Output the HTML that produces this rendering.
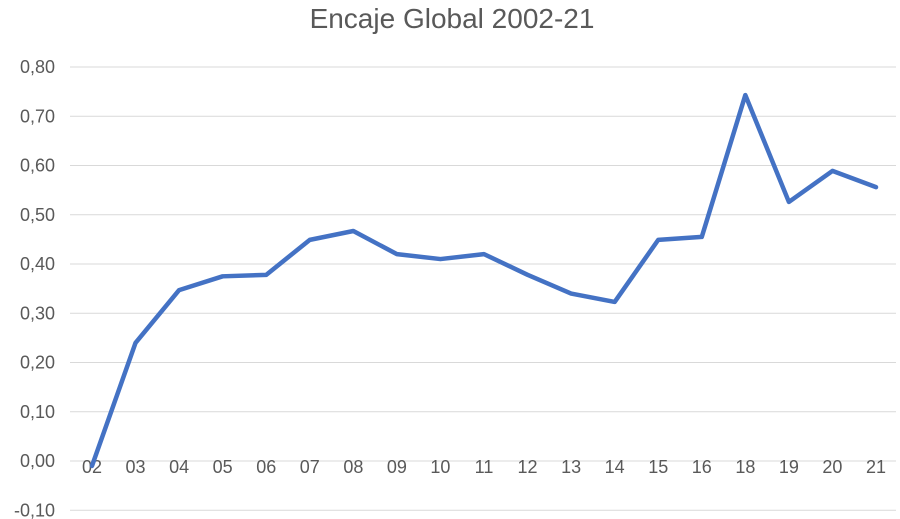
<!DOCTYPE html>
<html><head><meta charset="utf-8"><style>
html,body{margin:0;padding:0;background:#fff;}
svg{display:block;font-family:"Liberation Sans",sans-serif;}
</style></head><body>
<svg id="chart" width="900" height="519">
<text x="452" y="28" text-anchor="middle" font-size="28" fill="#595959">Encaje Global 2002-21</text>
<g id="grid"></g><g id="yl"></g><g id="xl"></g><g id="series"></g>
</svg>
<script>
const categories=["02","03","04","05","06","07","08","09","10","11","12","13","14","15","16","18","19","20","21"];
const values=[-0.01,0.24,0.347,0.375,0.378,0.449,0.467,0.42,0.41,0.42,0.378,0.34,0.323,0.449,0.455,0.743,0.526,0.589,0.556];
const yTicks=[-0.1,0,0.1,0.2,0.3,0.4,0.5,0.6,0.7,0.8];
const tickLabels=["-0,10","0,00","0,10","0,20","0,30","0,40","0,50","0,60","0,70","0,80"];
const NS="http://www.w3.org/2000/svg";
const y=v=>461-v*492.5;
const x=i=>92+i*(876-92)/(categories.length-1);
function mk(t,a,p){const e=document.createElementNS(NS,t);for(const k in a)e.setAttribute(k,a[k]);p.appendChild(e);return e;}
const grid=document.getElementById('grid'),yl=document.getElementById('yl'),xl=document.getElementById('xl'),ser=document.getElementById('series');
yTicks.forEach((v,i)=>{
 const l=mk('line',{x1:70,x2:896,y1:y(v),y2:y(v),stroke:'#d9d9d9','stroke-width':1},grid);
 
 
 const t=mk('text',{x:55,y:y(v)+6,'text-anchor':'end','font-size':18,fill:'#595959'},yl);
 t.textContent=tickLabels[i];
 
 
});
categories.forEach((c,i)=>{
 const t=mk('text',{x:x(i),y:473,'text-anchor':'middle','font-size':18,fill:'#595959'},xl);
 t.textContent=c;
 
 
});
const pts=values.map((v,i)=>x(i)+','+y(v)).join(' ');
const pl=mk('polyline',{points:pts,fill:'none',stroke:'#4472c4','stroke-width':4.5,'stroke-linejoin':'round','stroke-linecap':'round'},ser);


</script>
</body></html>
